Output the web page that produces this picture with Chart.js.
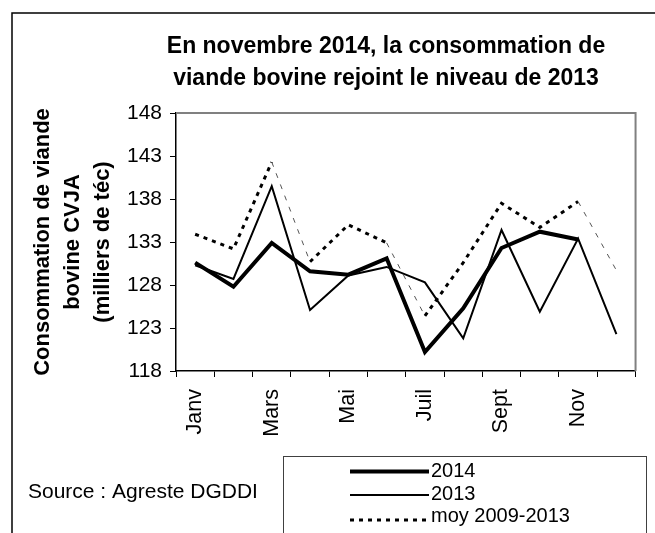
<!DOCTYPE html>
<html>
<head>
<meta charset="utf-8">
<script src="https://cdn.jsdelivr.net/npm/chart.js@4/dist/chart.umd.min.js"></script>
<style>
    html, body { margin: 0; padding: 0; background: #fff; }
    #wrap { width: 655px; height: 533px; }
</style>
</head>
<body>
<div id="wrap"><canvas id="line-chart" width="655" height="533"></canvas></div>
<script>
const FONT = '"Liberation Sans", Arial, sans-serif';

// data
const months = ['Janv', 'Févr', 'Mars', 'Avr', 'Mai', 'Juin', 'Juil', 'Août', 'Sept', 'Oct', 'Nov', 'Déc'];
const values2014 = [130.6, 127.8, 132.9, 129.6, 129.2, 131.1, 120.2, 125.3, 132.3, 134.2, 133.3, null];
const values2013 = [130.3, 128.7, 139.5, 125.1, 129.1, 130.1, 128.3, 121.8, 134.4, 124.9, 133.4, 122.3];
const valuesMoy = [133.9, 132.2, 142.3, 130.7, 135.0, 132.9, 124.4, 130.6, 137.5, 134.7, 137.7, 129.7];
const yTicks = [118, 123, 128, 133, 138, 143, 148];

const titleLines = ['En novembre 2014, la consommation de', 'viande bovine rejoint le niveau de 2013'];
const yTitle = ['Consommation de viande', 'bovine CVJA', '(milliers de téc)'];
const sourceText = 'Source : Agreste DGDDI';

// the average line looks thinner on the steep drops in the original
const steepDrop = ctx => ctx.p0.parsed.y - ctx.p1.parsed.y > 5;

const decorPlugin = {
    id: 'decor',
    beforeDraw(chart) {
        const ctx = chart.ctx;
        ctx.save();
        ctx.fillStyle = '#fff';
        ctx.fillRect(0, 0, chart.width, chart.height);
        ctx.restore();
    },
    afterDraw(chart) {
        const ctx = chart.ctx;
        const area = chart.chartArea;
        ctx.save();

        // top and right edge of the plot area
        ctx.strokeStyle = '#808080';
        ctx.lineWidth = 2;
        ctx.beginPath();
        ctx.moveTo(area.left, area.top);
        ctx.lineTo(area.right, area.top);
        ctx.lineTo(area.right, area.bottom);
        ctx.stroke();

        // outer frame
        ctx.strokeStyle = '#000';
        ctx.lineWidth = 1.5;
        ctx.strokeRect(12, 13, 700, 600);

        // title
        ctx.fillStyle = '#000';
        ctx.font = 'bold 23px ' + FONT;
        ctx.textAlign = 'center';
        ctx.textBaseline = 'alphabetic';
        ctx.fillText(titleLines[0], 386, 53);
        ctx.fillText(titleLines[1], 386, 85);

        // source
        ctx.font = '21px ' + FONT;
        ctx.textAlign = 'left';
        ctx.textBaseline = 'middle';
        ctx.fillText(sourceText, 28, 492);

        // legend
        ctx.strokeStyle = '#404040';
        ctx.lineWidth = 1;
        ctx.strokeRect(283.5, 456.5, 363, 120);

        const rows = [471.5, 495, 520];
        const textY = [471, 494, 516];
        chart.data.datasets.forEach((ds, i) => {
            ctx.save();
            ctx.strokeStyle = '#000';
            ctx.lineWidth = ds.borderWidth;
            ctx.setLineDash(ds.borderDash || []);
            ctx.lineCap = 'butt';
            ctx.beginPath();
            ctx.moveTo(350, rows[i]);
            ctx.lineTo(429, rows[i]);
            ctx.stroke();
            ctx.restore();

            ctx.font = '20px ' + FONT;
            ctx.fillStyle = '#000';
            ctx.textAlign = 'left';
            ctx.textBaseline = 'middle';
            ctx.fillText(ds.label, 431, textY[i]);
        });

        ctx.restore();
    }
};

window.chart = new Chart(document.getElementById('line-chart'), {
    type: 'line',
    data: {
        labels: months,
        datasets: [
            {
                label: '2014',
                data: values2014,
                borderColor: '#000',
                borderWidth: 4,
                pointRadius: 0,
                tension: 0,
            },
            {
                label: '2013',
                data: values2013,
                borderColor: '#000',
                borderWidth: 2,
                pointRadius: 0,
                tension: 0,
            },
            {
                label: 'moy 2009-2013',
                data: valuesMoy,
                borderColor: '#000',
                borderWidth: 3,
                borderDash: [4, 5],
                borderCapStyle: 'butt',
                pointRadius: 0,
                tension: 0,
                segment: {
                    borderWidth: ctx => steepDrop(ctx) ? 1 : 3,
                    borderDash: ctx => steepDrop(ctx) ? [5, 7] : [4, 5],
                    borderColor: ctx => steepDrop(ctx) ? '#555' : '#000',
                },
            },
        ],
    },
    options: {
        responsive: false,
        animation: false,
        devicePixelRatio: 1,
        layout: {
            padding: { top: 113, right: 19, left: 0, bottom: 0 }
        },
        plugins: {
            legend: { display: false },
            title: { display: false },
            tooltip: { enabled: false },
        },
        scales: {
            x: {
                offset: true,
                grid: {
                    drawOnChartArea: false,
                    tickLength: 6,
                    color: '#000',
                    offset: true,
                },
                border: { color: '#000', width: 1.5 },
                ticks: {
                    autoSkip: false,
                    minRotation: 90,
                    maxRotation: 90,
                    padding: 12,
                    color: '#000',
                    font: { family: FONT, size: 21.5 },
                    callback: (val, i) => i % 2 === 0 ? months[i] : '',
                },
                afterFit: (scale) => { scale.height = 162; },
            },
            y: {
                min: 118,
                max: 148,
                grid: {
                    drawOnChartArea: false,
                    tickLength: 6,
                    color: '#000',
                },
                border: { color: '#000', width: 1.5 },
                ticks: {
                    padding: 8,
                    color: '#000',
                    font: { family: FONT, size: 21 },
                },
                afterBuildTicks: (scale) => {
                    scale.ticks = yTicks.map(v => ({ value: v }));
                },
                title: {
                    display: true,
                    text: yTitle,
                    color: '#000',
                    font: { family: FONT, size: 22, weight: 'bold', lineHeight: 30 / 22 },
                    padding: { top: 28, bottom: 0 },
                },
                afterFit: (scale) => { scale.width = 176; },
            },
        },
    },
    plugins: [decorPlugin],
});
</script>
</body>
</html>
